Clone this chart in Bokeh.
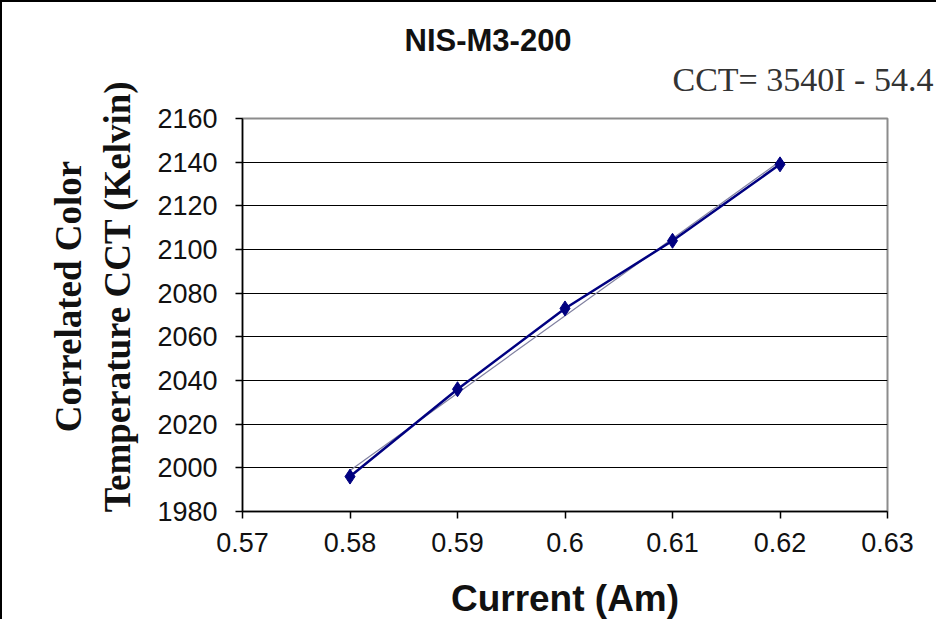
from bokeh.plotting import figure
from bokeh.models import Range1d, FixedTicker, Title, ColumnDataSource
from bokeh.embed import file_html
from bokeh.resources import INLINE

# ---- data ----
current = [0.58, 0.59, 0.60, 0.61, 0.62]
cct = [1996, 2036, 2073, 2104, 2139]
trend_current = [0.58, 0.62]
trend_cct = [1998.8, 2140.4]
x_ticks = [0.57, 0.58, 0.59, 0.60, 0.61, 0.62, 0.63]
x_tick_labels = ["0.57", "0.58", "0.59", "0.6", "0.61", "0.62", "0.63"]
y_ticks = [1980, 2000, 2020, 2040, 2060, 2080, 2100, 2120, 2140, 2160]
title_text = "NIS-M3-200"
equation_text = "CCT= 3540I - 54.4"
y_label_lines = ["Correlated Color", "Temperature CCT (Kelvin)"]
x_label_text = "Current (Am)"

# frame placement on the page (pixels)
FL, FR, FT, FB = 248, 893, 124, 518

p = figure(width=936, height=619, output_backend="svg", toolbar_location=None,
           x_range=Range1d(x_ticks[0], x_ticks[-1]),
           y_range=Range1d(y_ticks[0], y_ticks[-1]),
           min_border_left=FL - 8, min_border_right=944 - FR,
           min_border_top=FT - 8, min_border_bottom=627 - FB)
p.styles = {"border-left": "2px solid #000", "border-top": "2px solid #000"}
p.background_fill_color = "white"
p.border_fill_color = "white"
p.outline_line_color = "#8c8c8c"
p.outline_line_width = 2

# chart name on top, equation stacked just above the frame
p.title.text = title_text
p.title.align = "left"
p.title.offset = 410 - FL
p.title.text_font = "Liberation Sans"
p.title.text_font_style = "bold"
p.title.text_font_size = "31px"
p.title.text_color = "#111111"
p.title.standoff = -41
p.add_layout(Title(text=equation_text, align="left", offset=678 - FL,
                   text_font="Liberation Serif", text_font_style="normal",
                   text_font_size="34px", text_color="#333333", standoff=42), "above")

for ax in (p.xaxis, p.yaxis):
    ax.axis_line_color = "black"
    ax.axis_line_width = 1.5
    ax.major_tick_line_color = "black"
    ax.major_tick_line_width = 1.5
    ax.major_tick_in = 0
    ax.major_tick_out = 7
    ax.minor_tick_line_color = None
    ax.major_label_text_font = "Liberation Sans"
    ax.major_label_text_font_size = "27px"
    ax.major_label_text_color = "#111111"
    ax.axis_label_text_font_style = "bold"
    ax.axis_label_text_color = "#111111"

p.xaxis.ticker = FixedTicker(ticks=x_ticks)
p.xaxis.major_label_overrides = {t: l for t, l in zip(x_ticks, x_tick_labels)}
p.xaxis.major_label_standoff = 14
p.xaxis.axis_label = x_label_text
p.xaxis.axis_label_text_font = "Liberation Sans"
p.xaxis.axis_label_text_font_size = "37px"
p.xaxis.axis_label_standoff = 23

p.yaxis.ticker = FixedTicker(ticks=y_ticks)
p.yaxis.major_label_standoff = 18
# leading no-break spaces nudge the rotated label's visible text upward
p.yaxis.axis_label = "\n".join("\u00a0\u00a0\u00a0\u00a0" + s for s in y_label_lines)
p.yaxis.axis_label_text_font = "Liberation Serif"
p.yaxis.axis_label_text_font_size = "37px"
p.yaxis.axis_label_standoff = 16

p.xgrid.grid_line_color = None
p.ygrid.ticker = FixedTicker(ticks=y_ticks[1:-1])
p.ygrid.grid_line_color = "black"
p.ygrid.grid_line_width = 1.2

p.line(trend_current, trend_cct, line_color="#8080a0", line_width=1.2)
src = ColumnDataSource(dict(x=current, y=cct))
p.line("x", "y", source=src, line_color="#000080", line_width=2.5)
p.scatter("x", "y", source=src, marker="diamond", size=15,
          fill_color="#000080", line_color="#000080")

open("out.html", "w").write(file_html(p, INLINE))
